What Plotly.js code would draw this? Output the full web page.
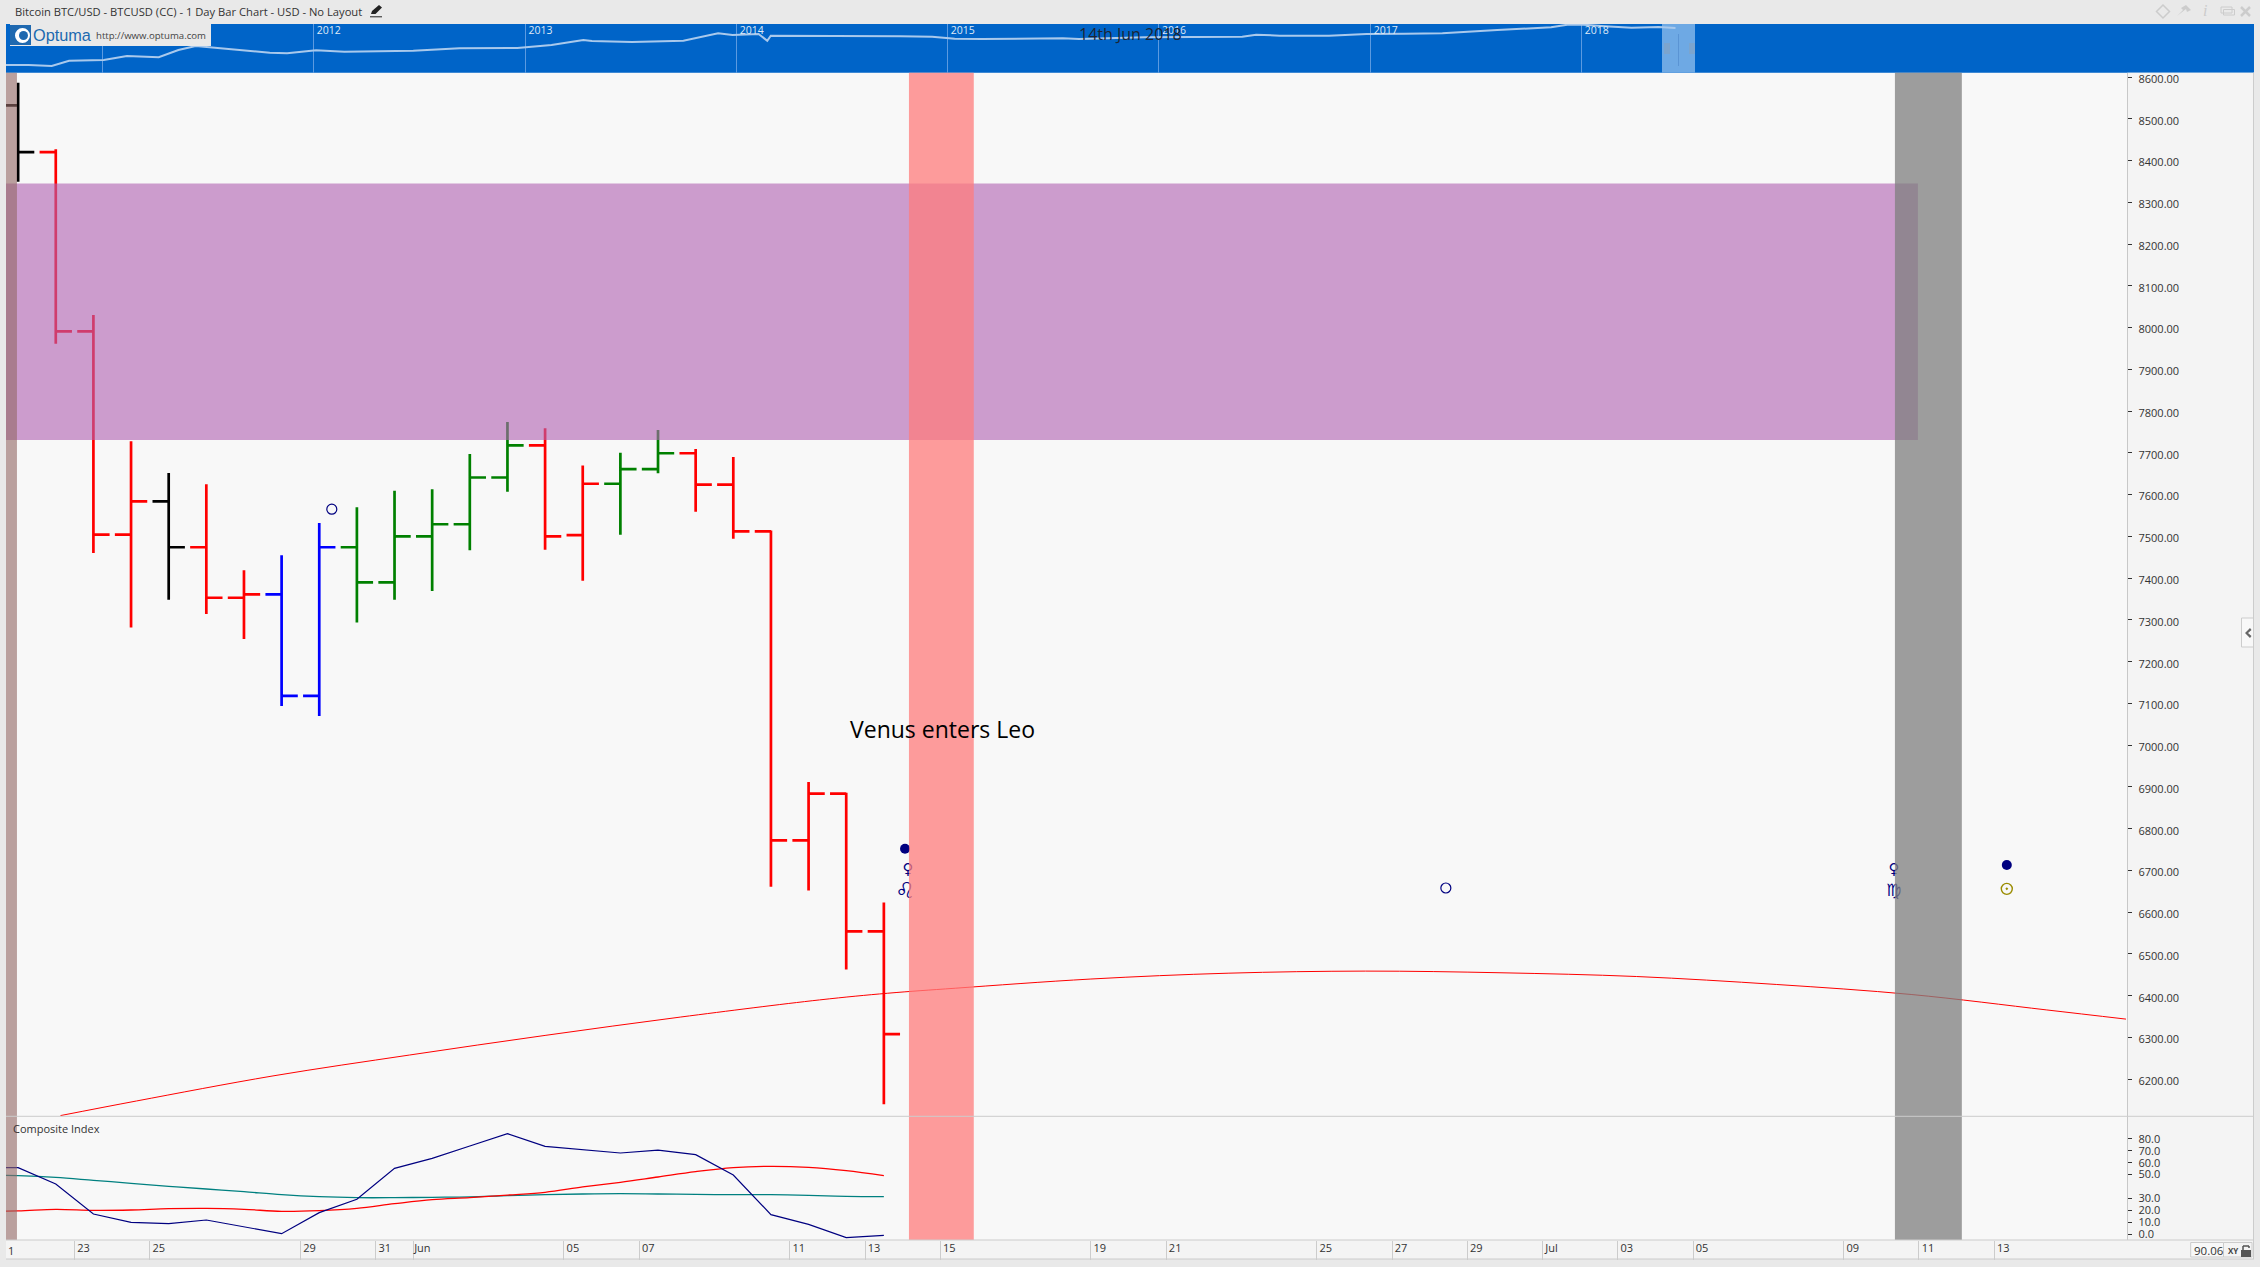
<!DOCTYPE html>
<html><head><meta charset="utf-8">
<script src="https://cdn.plot.ly/plotly-3.0.1.min.js"></script>
<style>html,body{margin:0;padding:0;background:#e9e9e9;overflow:hidden}#chart{width:2260px;height:1267px}</style>
</head><body><div id="chart"></div>
<script>
// ---- price bars (daily, May 21 .. Jun 13 2018) ----
const barDates = ["2018-05-21","2018-05-22","2018-05-23","2018-05-24","2018-05-25","2018-05-26","2018-05-27","2018-05-28","2018-05-29","2018-05-30","2018-05-31","2018-06-01","2018-06-02","2018-06-03","2018-06-04","2018-06-05","2018-06-06","2018-06-07","2018-06-08","2018-06-09","2018-06-10","2018-06-11","2018-06-12","2018-06-13"].map(d => d + " 12:00");
const opens  = [8532,8420,7991,7504,7584,7474,7353,7361,7118,7474,7390,7500,7529,7641,7718,7503,7626,7661,7699,7624,7512,6772,6884,6554];
const highs  = [8586,8427,8030,7728,7652,7625,7419,7455,7532,7570,7609,7613,7697,7774,7759,7670,7700,7755,7709,7690,7514,6912,6886,6623];
const lows   = [8349,7961,7460,7282,7348,7314,7254,7094,7070,7294,7348,7369,7467,7607,7468,7394,7504,7651,7559,7494,6661,6652,6463,6140];
const closes = [8420,7991,7504,7584,7474,7353,7361,7118,7474,7390,7500,7529,7641,7718,7500,7626,7661,7699,7624,7512,6772,6884,6554,6308];
const barColors = ["black","red","red","red","black","red","red","blue","blue","green","green","green","green","green","red","red","green","green","red","red","red","red","red","red"];
const colorValues = {black:"#000000", red:"#ff0000", blue:"#0000ff", green:"#008000"};

// ---- long arc ----
const arcDates = ["2018-05-22 15:00","2018-05-24 15:30","2018-05-28 06:30","2018-05-31 21:30","2018-06-04 12:00","2018-06-08 02:30","2018-06-11 19:00","2018-06-13 14:30","2018-06-15 09:30","2018-06-19 00:00","2018-06-22 15:30","2018-06-26 07:00","2018-06-29 21:30","2018-07-03 12:00","2018-07-07 05:00","2018-07-10 19:00","2018-07-14 09:30","2018-07-16 12:00"];
const arcValues = [6113,6148,6208,6258,6305,6349,6390,6406,6418,6440,6454,6459,6455,6446,6427,6403,6366,6344];

// ---- composite index ----
const compositeDates = ["2018-05-20 12:00"].concat(barDates);
const compositeNavy = [55.9,55.9,42.1,16.8,9.8,8.7,11.8,6.2,0.3,18,29.2,55.3,63.7,74.1,84.5,73.8,71.3,68.2,70.7,66.8,49.7,16.3,8.1,-3.1,-1.1];
const compositeRed  = [19.2,19.4,20.8,19.9,20.2,21.3,21.6,20.8,19.1,19.7,21.6,25.5,28.9,30.6,32.8,35.1,39.6,43.5,48,52.5,55.9,57,56.1,53.3,49.1];
const compositeTeal = [49.5,49.1,47.7,45.2,42.7,40.1,37.9,35.6,33.1,31.4,30.6,30.6,30.9,31.2,32.3,33.1,33.7,34,33.7,33.4,33.1,33.1,32.6,31.7,31.4];

// ---- navigator (whole history) ----
const navDates = ["2010-07-17","2010-08-26","2010-10-05","2010-11-04","2011-01-03","2011-02-12","2011-04-08","2011-05-12","2011-06-11","2011-08-08","2011-10-17","2011-11-16","2012-01-05","2012-02-23","2012-06-21","2012-09-09","2012-12-18","2013-02-15","2013-04-11","2013-04-26","2013-07-04","2013-10-01","2013-11-30","2013-12-25","2014-02-08","2014-02-23","2014-03-01","2014-10-11","2014-12-05","2015-01-13","2015-03-01","2015-07-19","2015-08-16","2015-12-07","2016-05-24","2016-06-17","2016-07-28","2016-10-21","2016-12-25","2017-03-01","2017-05-05","2017-08-08","2017-11-09","2017-12-07","2018-01-04","2018-02-10","2018-03-28","2018-05-14","2018-06-12"];
const navValues = [7.7,7.7,6.7,12,12.7,16.7,15.4,22.7,26.7,23.7,20,19.4,22.4,21,22,24.4,24.7,27.7,32.7,31.7,30.7,32,39.4,37.7,38.7,32,37,36.4,36,34,33.7,34.4,33.7,35.4,36,38,37,37,38.7,39,39.4,42.7,45.4,48,48,46.4,45,45.7,44.7];
const navYears = ["2011-01-01","2012-01-01","2013-01-01","2014-01-01","2015-01-01","2016-01-01","2017-01-01","2018-01-01"];
const navYearLabels = ["","2012","2013","2014","2015","2016","2017","2018"];

// ---- axis ticks ----
const xTickDates = ["2018-05-23","2018-05-25","2018-05-29","2018-05-31","2018-06-01","2018-06-05","2018-06-07","2018-06-11","2018-06-13","2018-06-15","2018-06-19","2018-06-21","2018-06-25","2018-06-27","2018-06-29","2018-07-01","2018-07-03","2018-07-05","2018-07-09","2018-07-11","2018-07-13"];
const xTickLabels = ["23","25","29","31","Jun","05","07","11","13","15","19","21","25","27","29","Jul","03","05","09","11","13"];
const compositeTicks = [0,10,20,30,50,60,70,80];

// ---- markers and glyphs ----
const openCircleDates = ["2018-05-29 20:00","2018-06-28 10:20"];
const openCircleValues = [7565,6658];
const filledDates = ["2018-06-14 01:30","2018-07-13 08:00"];
const filledValues = [6752,6713];
const sunDates = ["2018-07-13 08:00"];
const sunValues = [6656];
const glyphDates = ["2018-06-14 03:20","2018-06-14 01:30","2018-07-10 08:00","2018-07-10 08:00"];
const glyphValues = [6700,6648,6700,6650];
const glyphTexts = ["\u2640","\u264C\uFE0E","\u2640","\u264D\uFE0E"];
const glyphSizes = [15,22,15,17];

// ---- zones ----
const zoneStart = "2018-05-21 04:16", brownEnd = "2018-05-21 11:15";
const purpleEnd = "2018-07-10 23:20", purpleLow = 7731, purpleHigh = 8345;
const redBand = ["2018-06-14 04:00","2018-06-15 21:20"];
const grayBand = ["2018-07-10 08:40","2018-07-12 03:20"];

// ---- layout helpers ----
const W = 2260, H = 1267;
const px = x => x / W, py = y => 1 - y / H;
const L = 6, R = 2127.3, NAVT = 24, T = 72.7, SEP = 1116.3, B = 1240, STRIP = 1259, END = 2254;
const rect = (x0, y0, x1, y1, fill, line, layer) => ({type:"rect", xref:"paper", yref:"paper", x0:px(x0), x1:px(x1), y0:py(y0), y1:py(y1), fillcolor:fill, line:{color:line||"rgba(0,0,0,0)", width:line?1:0}, layer:layer||"above"});
const seg = (x0, y0, x1, y1, color, w, layer) => ({type:"line", xref:"paper", yref:"paper", x0:px(x0), x1:px(x1), y0:py(y0), y1:py(y1), line:{color:color, width:w||1}, layer:layer||"above"});
const poly = (pts, fill, line, layer, w) => ({type:"path", xref:"paper", yref:"paper", path:"M" + pts.map(p => px(p[0]) + "," + py(p[1])).join(" L") + " Z", fillcolor:fill, line:{color:line||"rgba(0,0,0,0)", width:line?(w||1):0}, layer:layer||"above"});
const circ = (x0, y0, x1, y1, fill, layer) => Object.assign(rect(x0,y0,x1,y1,fill,null,layer), {type:"circle"});
const bandY = {yref:"paper", y0:py(B), y1:py(T)};
const note = (x, y, text, size, color, anchor, extra) => Object.assign({xref:"paper", yref:"paper", x:px(x), y:py(y), text:text, showarrow:false, xanchor:anchor||"left", yanchor:"middle", borderpad:0, font:{family:"Open Sans", size:size, color:color}}, extra||{});

// ---- traces ----
const traces = [];
traces.push({type:"scatter", mode:"lines", x:navDates, y:navValues, xaxis:"x3", yaxis:"y3", line:{color:"#a9c9ec", width:2}, hoverinfo:"skip"});
Object.keys(colorValues).forEach(c => {
  const idx = barColors.map((b,i) => b === c ? i : -1).filter(i => i >= 0);
  const ln = {line:{color:colorValues[c], width:2.7}};
  traces.push({type:"ohlc", x:idx.map(i=>barDates[i]), open:idx.map(i=>opens[i]), high:idx.map(i=>highs[i]), low:idx.map(i=>lows[i]), close:idx.map(i=>closes[i]), tickwidth:0.43, increasing:ln, decreasing:ln, xaxis:"x", yaxis:"y", hoverinfo:"skip"});
});
traces.push({type:"scatter", mode:"lines", x:arcDates, y:arcValues, line:{color:"#ff0000", width:1, shape:"spline"}, xaxis:"x", yaxis:"y", hoverinfo:"skip"});
traces.push({type:"scatter", mode:"markers", x:openCircleDates, y:openCircleValues, marker:{symbol:"circle-open", size:10, color:"#000080", line:{width:1.2, color:"#000080"}}, hoverinfo:"skip"});
traces.push({type:"scatter", mode:"markers", x:filledDates, y:filledValues, marker:{symbol:"circle", size:10, color:"#000080"}, hoverinfo:"skip"});
traces.push({type:"scatter", mode:"markers", x:sunDates, y:sunValues, marker:{symbol:"circle-open-dot", size:11, color:"#9a8c00", line:{width:1.4, color:"#9a8c00"}}, hoverinfo:"skip"});
traces.push({type:"scatter", mode:"text", x:glyphDates, y:glyphValues, text:glyphTexts, textposition:"middle center", textfont:{family:"DejaVu Sans", size:glyphSizes, color:"#000080"}, hoverinfo:"skip"});
traces.push({type:"scatter", mode:"lines", x:compositeDates, y:compositeTeal, xaxis:"x", yaxis:"y2", line:{color:"#008080", width:1.3, shape:"spline"}, hoverinfo:"skip"});
traces.push({type:"scatter", mode:"lines", x:compositeDates, y:compositeRed, xaxis:"x", yaxis:"y2", line:{color:"#ff0000", width:1.3, shape:"spline"}, hoverinfo:"skip"});
traces.push({type:"scatter", mode:"lines", x:compositeDates, y:compositeNavy, xaxis:"x", yaxis:"y2", line:{color:"#000080", width:1.2}, hoverinfo:"skip"});

// ---- shapes ----
const shapes = [
  rect(L, NAVT, END, T, "#0064c8", null, "below"),
  rect(1662, NAVT, 1695, T, "#6ea9e4", null, "below"),
  rect(R, T, END, B, "#f4f4f4", null, "below"),
  rect(L, B, END, STRIP, "#f4f4f4", null, "below"),
  {type:"rect", xref:"x", x0:zoneStart, x1:purpleEnd, yref:"y", y0:purpleLow, y1:purpleHigh, fillcolor:"rgba(176,98,178,0.61)", line:{width:0}, layer:"above"},
  Object.assign({type:"rect", xref:"x", x0:redBand[0], x1:redBand[1], fillcolor:"rgba(255,124,124,0.75)", line:{width:0}, layer:"above"}, bandY),
  Object.assign({type:"rect", xref:"x", x0:grayBand[0], x1:grayBand[1], fillcolor:"rgba(127,127,127,0.76)", line:{width:0}, layer:"above"}, bandY),
  Object.assign({type:"rect", xref:"x", x0:zoneStart, x1:brownEnd, fillcolor:"rgba(147,105,102,0.61)", line:{width:0}, layer:"above"}, bandY),
  seg(L, SEP, END, SEP, "#cccccc"),
  seg(L, B, END, B, "#cccccc"),
  seg(L, STRIP, END, STRIP, "#cccccc"),
  seg(END-0.5, T, END-0.5, STRIP, "#cccccc"),
  // navigator handle
  seg(1678.5, 34, 1678.5, 66, "#5a94d4", 1),
  seg(1665, 43, 1665, 54, "#8aa0b8"), seg(1667, 43, 1667, 54, "#8aa0b8"), seg(1669, 43, 1669, 54, "#8aa0b8"),
  seg(1690, 43, 1690, 54, "#8aa0b8"), seg(1692, 43, 1692, 54, "#8aa0b8"), seg(1694, 43, 1694, 54, "#8aa0b8"),
  // logo
  rect(10, 24, 211, 46, "#e9e9e9"),
  rect(10, 25, 31, 45, "#1f69b0"),
  circ(15, 28, 30, 43, "#ffffff"),
  circ(19, 31, 28, 40, "#1f69b0"),
  // pencil
  poly([[371,14],[372,11],[379,5],[382,7.5],[375.5,14]], "#222222"),
  seg(370, 16.8, 382, 16.8, "#222222", 1),
  // window icons
  poly([[2163,5],[2169.5,11.5],[2163,18],[2156.5,11.5]], "rgba(0,0,0,0)", "#cccccc", "above", 1.5),
  poly([[2177,16],[2183,10],[2181,8],[2186,5],[2191,10],[2187,12],[2186,9]], "#cccccc"),
  rect(2221, 7, 2232, 13, "rgba(0,0,0,0)", "#cccccc"),
  rect(2223.5, 9.5, 2234.5, 15, "rgba(0,0,0,0)", "#cccccc"),
  seg(2241, 7, 2250, 16, "#cccccc", 2.5),
  seg(2250, 7, 2241, 16, "#cccccc", 2.5),
  // collapse tab
  rect(2241.5, 618, 2253.5, 647, "#f8f8f8", "#cccccc"),
  poly([[2250,628],[2245,633],[2250,638],[2251.5,636],[2248,633],[2251.5,630]], "#666666"),
  // bottom right boxes
  rect(2190.7, 1242.5, 2223.5, 1257, "#f8f8f8", "#cccccc"),
  rect(2223.5, 1242.5, 2252, 1257, "#f4f4f4", "#cccccc"),
  rect(2241, 1250, 2251, 1257, "#555555"),
  seg(2243, 1250, 2243, 1246, "#555555", 1.5), seg(2243, 1246, 2249, 1246, "#555555", 1.5), seg(2249, 1246, 2249, 1248, "#555555", 1.5)
];

// ---- annotations ----
const annotations = [
  note(32, 35, "Optuma", 16.3, "#1c6ab0", "left", {font:{family:"Liberation Sans", size:16.3, color:"#1c6ab0"}}),
  note(95, 35.5, "http://www.optuma.com", 9.6, "#444444"),
  note(1130, 34, "14th Jun 2018", 16, "#1c2433", "center"),
  note(12, 1128, "Composite Index", 11, "#333333"),
  note(7, 1250, "1", 11, "#333333"),
  note(2193, 1250, "90.06", 11.5, "#333333"),
  note(2226.5, 1250, "XY", 8, "#444444", "left", {font:{family:"Open Sans", size:8, color:"#444444", weight:700}}),
  note(2205, 11, "<i>i</i>", 15, "#cccccc", "center", {font:{family:"Liberation Serif", size:16, color:"#cccccc"}}),
  note(942.5, 729, "Venus enters Leo", 23, "#000000", "center")
];

const layout = {
  width:W, height:H, autosize:false, margin:{l:0,r:0,t:0,b:0,pad:0},
  paper_bgcolor:"#e9e9e9", plot_bgcolor:"#f8f8f8", showlegend:false, hovermode:false, dragmode:false,
  font:{family:"Open Sans", color:"#333333", size:11},
  title:{text:"Bitcoin BTC/USD - BTCUSD (CC) - 1 Day Bar Chart - USD - No Layout", xref:"paper", yref:"paper", x:px(15), xanchor:"left", y:py(12), yanchor:"middle", pad:{t:0,b:0,l:0,r:0}, font:{family:"Open Sans", size:11.2, color:"#333333"}},
  xaxis:{domain:[px(L),px(R)], anchor:"y2", type:"date", range:["2018-05-21 04:16","2018-07-16 12:50"], rangeslider:{visible:false}, tickmode:"array", tickvals:xTickDates, ticktext:xTickLabels, ticks:"outside", ticklen:19, tickcolor:"#cccccc", tickwidth:1, showgrid:false, zeroline:false, showline:false, tickangle:0, ticklabelstandoff:-21, ticklabelshift:9, tickfont:{family:"Open Sans", size:11, color:"#333333"}, fixedrange:true},
  yaxis:{domain:[py(SEP),py(T)], anchor:"x", side:"right", range:[6111.3,8610.3], dtick:100, tick0:6000, tickformat:".2f", ticks:"outside", ticklen:4, tickcolor:"#333333", tickwidth:1, showgrid:false, zeroline:false, showline:true, linecolor:"#c8c8c8", linewidth:1, ticklabelstandoff:4, ticklabelshift:2, tickfont:{family:"Open Sans", size:11, color:"#333333"}, fixedrange:true},
  yaxis2:{domain:[py(B),py(SEP)], anchor:"x", side:"right", range:[-5.05,99.1], tickmode:"array", tickvals:compositeTicks, tickformat:".1f", ticks:"outside", ticklen:4, tickcolor:"#333333", tickwidth:1, showgrid:false, zeroline:false, showline:true, linecolor:"#c8c8c8", linewidth:1, ticklabelstandoff:4, tickfont:{family:"Open Sans", size:11, color:"#333333"}, fixedrange:true},
  xaxis3:{domain:[px(L),px(END)], anchor:"y3", side:"top", type:"date", range:["2010-07-18","2021-03-08"], tickmode:"array", tickvals:navYears, ticktext:navYearLabels, ticks:"", ticklabelposition:"inside", ticklabelshift:15, ticklabeloverflow:"allow", showgrid:true, gridcolor:"#5c9ae0", gridwidth:1, zeroline:false, showline:false, tickfont:{family:"Open Sans", size:10.5, color:"#dfe9f7"}, fixedrange:true},
  yaxis3:{domain:[py(T),py(NAVT)], anchor:"x3", range:[0,48.7], showticklabels:false, ticks:"", showgrid:false, zeroline:false, showline:false, fixedrange:true},
  shapes:shapes, annotations:annotations
};
Plotly.newPlot("chart", traces, layout, {displayModeBar:false, staticPlot:true, responsive:false});
</script></body></html>
